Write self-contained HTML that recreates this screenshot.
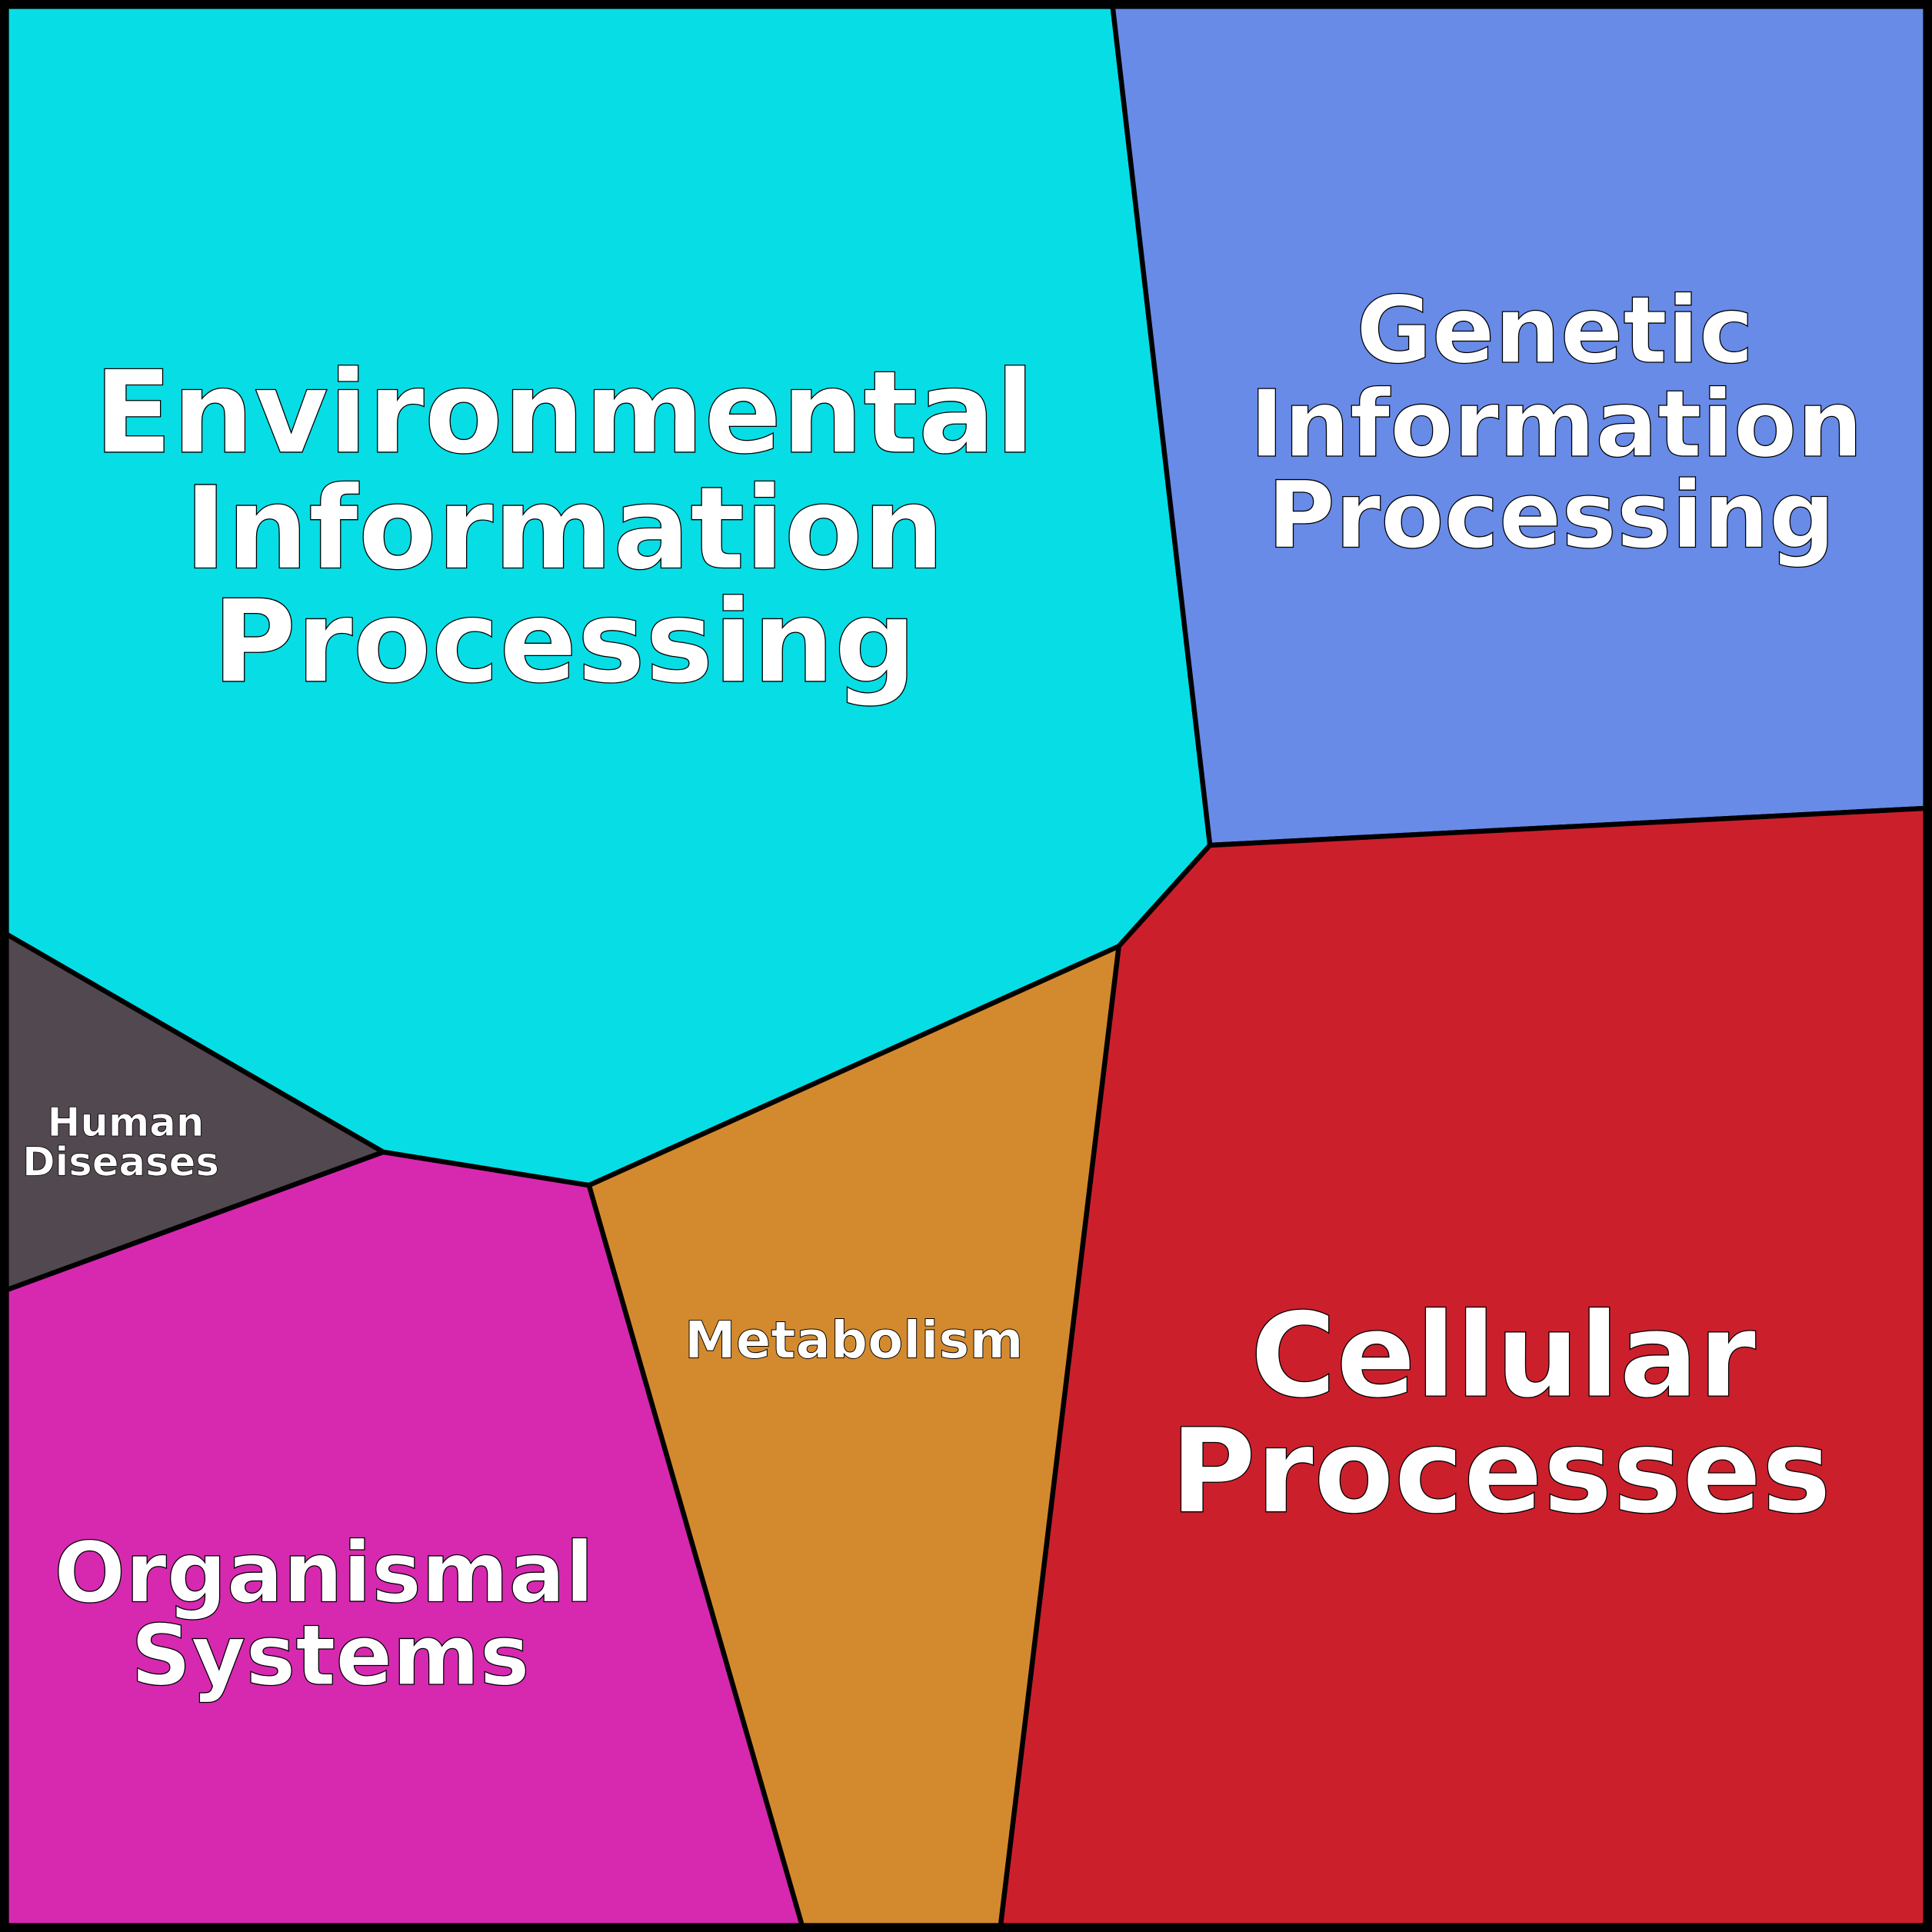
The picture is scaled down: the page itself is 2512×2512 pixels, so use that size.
<!DOCTYPE html>
<html><head><style>html,body{margin:0;padding:0;background:#000}svg{display:block}</style></head>
<body>
<svg xmlns="http://www.w3.org/2000/svg" width="2512" height="2512" viewBox="0 0 1568 1568">
<rect x="0" y="0" width="1568" height="1568" fill="#000"/>
<g stroke="#000" stroke-width="4" stroke-linejoin="round">
<polygon fill="#07dde5" points="5,5 903,5 982,686 908,768 478,962 311,935 5,758"/>
<polygon fill="#688be8" points="903,5 1563,5 1563,656 982,686"/>
<polygon fill="#cc1f2c" points="982,686 1563,656 1563,1563 812,1563 908,768"/>
<polygon fill="#d38a2e" points="478,962 908,768 812,1563 651,1563"/>
<polygon fill="#d629b0" points="5,1047 311,935 478,962 651,1563 5,1563"/>
<polygon fill="#52484f" points="5,758 311,935 5,1047"/>
</g>
<rect x="3.5" y="3.5" width="1561" height="1561" fill="none" stroke="#000" stroke-width="7.5"/>
<g font-family="'DejaVu Sans','Liberation Sans',sans-serif" font-weight="bold" fill="#fff" stroke="#000" stroke-width="0.8" text-anchor="middle">
<g font-size="93">
<text x="458" y="367">Environmental</text>
<text x="458" y="461">Information</text>
<text x="458" y="553">Processing</text>
</g>
<g font-size="75">
<text x="1262" y="294">Genetic</text>
<text x="1263" y="370">Information</text>
<text x="1259" y="444">Processing</text>
</g>
<g font-size="95">
<text x="1220" y="1133">Cellular</text>
<text x="1218" y="1227">Processes</text>
</g>
<g font-size="68">
<text x="263" y="1300">Organismal</text>
<text x="268" y="1367">Systems</text>
</g>
<g font-size="32" stroke-width="0.5">
<text x="102" y="922">Human</text>
<text x="98" y="954">Diseases</text>
</g>
<text x="693" y="1102" font-size="42" stroke-width="0.6">Metabolism</text>
</g>
</svg>
</body></html>
